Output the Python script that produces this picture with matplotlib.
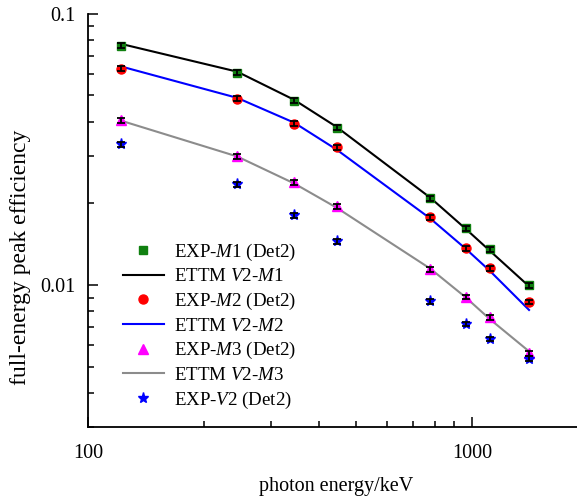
import numpy as np
import matplotlib.pyplot as plt

plt.rcParams['font.family'] = 'Liberation Serif'
plt.rcParams['mathtext.fontset'] = 'custom'
plt.rcParams['mathtext.rm'] = 'Liberation Serif'
plt.rcParams['mathtext.it'] = 'Liberation Serif:italic'

# --- Data (Eu-152 lines) ---
energy = [121.8, 244.7, 344.3, 444.0, 778.9, 964.1, 1112.1, 1408.0]

exp_m1 = [0.0763, 0.0607, 0.0479, 0.0381, 0.0209, 0.0162, 0.01355, 0.0100]
exp_m2 = [0.0628, 0.0487, 0.0394, 0.0322, 0.0178, 0.01368, 0.01155, 0.00866]
exp_m3 = [0.0405, 0.0298, 0.0239, 0.0195, 0.01145, 0.00904, 0.00762, 0.00560]
exp_v2 = [0.0330, 0.0235, 0.0181, 0.01452, 0.00873, 0.0072, 0.00633, 0.00535]

ettm_m1 = [0.0775, 0.0612, 0.0482, 0.0383, 0.0210, 0.0161, 0.0134, 0.0099]
ettm_m2 = [0.0640, 0.0490, 0.0397, 0.0316, 0.0176, 0.0136, 0.0113, 0.0081]
ettm_m3 = [0.0404, 0.0298, 0.0237, 0.0193, 0.0115, 0.0090, 0.0075, 0.0057]

err_frac = 0.02   # relative uncertainty of the measured points

fig = plt.figure(figsize=(5.77, 4.99), dpi=100)
ax = fig.add_axes([0.1525, 0.1443, 0.86, 0.828])

ax.plot(energy, ettm_m1, color='black', lw=1.5, zorder=2)
ax.plot(energy, ettm_m2, color='#0000ff', lw=1.5, zorder=2)
ax.plot(energy, ettm_m3, color='#8c8c8c', lw=1.5, zorder=2)

def exp_points(y, marker, color, ms):
    y = np.array(y)
    ax.plot(energy, y, ls='none', marker=marker, color=color, ms=ms, zorder=3)
    ax.errorbar(energy, y, yerr=err_frac * y, fmt='none', ecolor='black',
                elinewidth=1.3, capsize=3.2, capthick=1.3, zorder=4)

exp_points(exp_m1, 's', '#108010', 6)
exp_points(exp_m2, 'o', '#ff0000', 6.5)
exp_points(exp_m3, '^', '#ff00ff', 7)
exp_points(exp_v2, '*', '#0000ff', 8)

# legend handles in the original order
h = [
    ax.plot([], [], ls='none', marker='s', color='#108010', ms=6)[0],
    ax.plot([], [], color='black', lw=1.5)[0],
    ax.plot([], [], ls='none', marker='o', color='#ff0000', ms=6.5)[0],
    ax.plot([], [], color='#0000ff', lw=1.5)[0],
    ax.plot([], [], ls='none', marker='^', color='#ff00ff', ms=7)[0],
    ax.plot([], [], color='#8c8c8c', lw=1.5)[0],
    ax.plot([], [], ls='none', marker='*', color='#0000ff', ms=8)[0],
]
labels = [
    r'EXP-$M$1 (Det2)',
    r'ETTM $V$2-$M$1',
    r'EXP-$M$2 (Det2)',
    r'ETTM $V$2-$M$2',
    r'EXP-$M$3 (Det2)',
    r'ETTM $V$2-$M$3',
    r'EXP-$V$2 (Det2)',
]
ax.legend(h, labels, loc='lower left', bbox_to_anchor=(0.047, 0.012),
          frameon=False, fontsize=13.6, handlelength=2.2, handletextpad=0.5,
          labelspacing=0.29, borderaxespad=0.2)

ax.set_xscale('log')
ax.set_yscale('log')
ax.set_xlim(100, 1960)
ax.set_ylim(0.003, 0.1)
ax.set_xticks([100, 1000])
ax.set_xticklabels(['100', '1000'])
ax.set_yticks([0.01, 0.1])
ax.set_yticklabels(['0.01', '0.1'])

ax.spines['top'].set_visible(False)
ax.spines['right'].set_visible(False)
ax.spines['left'].set_linewidth(1.3)
ax.spines['bottom'].set_linewidth(1.3)
ax.tick_params(which='major', direction='in', length=7, width=1.1,
               labelsize=14.5, pad=9)
ax.tick_params(which='minor', direction='in', length=4.5, width=1.1)
ax.tick_params(axis='x', which='major', pad=12)

ax.set_xlabel('photon energy/keV', fontsize=14.5, labelpad=10)
ax.set_ylabel('full-energy peak efficiency', fontsize=17)
ax.yaxis.set_label_coords(-0.115, 0.41)

fig.savefig('out.png', dpi=100)
